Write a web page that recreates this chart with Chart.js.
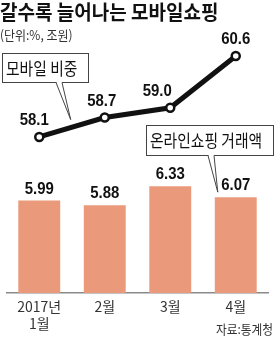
<!DOCTYPE html>
<html>
<head>
<meta charset="UTF-8">
<title>갈수록 늘어나는 모바일쇼핑</title>
<script src="https://cdn.jsdelivr.net/npm/chart.js"></script>
<style>
    html, body { margin: 0; padding: 0; background: #fff; }
    #wrap { position: relative; width: 275px; height: 341px; }
</style>
</head>
<body>
<div id="wrap"><canvas id="chart"></canvas></div>

<script>
    // 데이터
    var months = [['2017년', '1월'], '2월', '3월', '4월'];
    var mobileShare = [58.1, 58.7, 59.0, 60.6];   // 모바일 비중 (%)
    var onlineSales = [5.99, 5.88, 6.33, 6.07];   // 온라인쇼핑 거래액 (조원)

    var KR = '"Noto Sans CJK KR", "Noto Sans", sans-serif';
    var NUM = '"Liberation Sans", Arial, sans-serif';

    // 가로로 좁힌 글자 그리기
    function drawText(ctx, text, x, y, font, color, align, base, sx) {
        ctx.save();
        ctx.font = font;
        ctx.fillStyle = color;
        ctx.textAlign = align;
        ctx.textBaseline = base;
        ctx.translate(x, y);
        ctx.scale(sx, 1);
        ctx.fillText(text, 0, 0);
        ctx.restore();
    }

    // 말풍선 상자 + 꼬리
    function callout(ctx, box, baseL, baseR, tip) {
        var bottom = box.y + box.h;
        ctx.save();
        ctx.fillStyle = '#fff';
        ctx.strokeStyle = '#444';
        ctx.lineWidth = 1;
        ctx.fillRect(box.x, box.y, box.w, box.h);
        ctx.strokeRect(box.x + 0.5, box.y + 0.5, box.w, box.h);
        ctx.beginPath();
        ctx.moveTo(baseL, bottom + 0.5);
        ctx.lineTo(tip.x, tip.y);
        ctx.lineTo(baseR, bottom + 0.5);
        ctx.closePath();
        ctx.fill();
        ctx.fillRect(baseL + 1, bottom - 0.5, baseR - baseL - 1, 2);
        ctx.beginPath();
        ctx.moveTo(baseL, bottom + 0.5);
        ctx.lineTo(tip.x, tip.y);
        ctx.lineTo(baseR, bottom + 0.5);
        ctx.stroke();
        ctx.restore();
        drawText(ctx, box.text, box.x + 4, box.y + box.h / 2 + 1, '17px ' + KR, '#111', 'left', 'middle', 0.87);
    }

    var labelsPlugin = {
        id: 'labels',
        afterDraw: function (chart) {
            var ctx = chart.ctx;
            var bars = chart.getDatasetMeta(0).data;
            var pts = chart.getDatasetMeta(1).data;

            // 제목
            drawText(ctx, '갈수록 늘어나는 모바일쇼핑', 0, 12, 'bold 20px ' + KR, '#111', 'left', 'middle', 0.95);
            drawText(ctx, '(단위:%, 조원)', 0, 35, '13px ' + KR, '#333', 'left', 'middle', 0.92);

            // 막대 값
            for (var i = 0; i < bars.length; i++) {
                drawText(ctx, onlineSales[i].toFixed(2), bars[i].x, bars[i].y - 7, 'bold 17px ' + NUM, '#111', 'center', 'alphabetic', 0.88);
            }
            // 선 값
            var dx = [-5, -3, -13, 0];
            for (var j = 0; j < pts.length; j++) {
                drawText(ctx, mobileShare[j].toFixed(1), pts[j].x + dx[j], pts[j].y - 12, 'bold 17px ' + NUM, '#111', 'center', 'alphabetic', 0.88);
            }

            // 말풍선
            var t1x = pts[0].x + 0.48 * (pts[1].x - pts[0].x);
            var t1y = pts[0].y + 0.48 * (pts[1].y - pts[0].y) - 8;
            callout(ctx, { x: 2, y: 53, w: 86, h: 29, text: '모바일 비중' }, 56, 62, { x: t1x, y: t1y });
            var b4 = bars[3];
            callout(ctx, { x: 146, y: 125, w: 127, h: 30, text: '온라인쇼핑 거래액' }, 208, 214,
                { x: b4.x - b4.width / 2 + 3, y: b4.y - 5 });

            // 출처
            drawText(ctx, '자료:통계청', 273, 329, '13px ' + KR, '#333', 'right', 'middle', 0.9);
        }
    };

    var ctx = document.getElementById('chart').getContext('2d');
    var chart = new Chart(ctx, {
        type: 'bar',
        data: {
            labels: months,
            datasets: [{
                type: 'bar',
                data: onlineSales,
                yAxisID: 'y',
                backgroundColor: '#EA9A7B',
                barPercentage: 0.64,
                categoryPercentage: 1,
                order: 2
            }, {
                type: 'line',
                data: mobileShare,
                yAxisID: 'y2',
                borderColor: '#111',
                borderWidth: 5,
                tension: 0,
                pointRadius: 4,
                pointBorderWidth: 2.5,
                pointBackgroundColor: '#fff',
                pointBorderColor: '#111',
                clip: false,
                order: 1
            }]
        },
        options: {
            responsive: true,
            maintainAspectRatio: false,
            animation: false,
            layout: { padding: { top: 30, left: 0, right: 0, bottom: 0 } },
            plugins: {
                legend: { display: false },
                tooltip: { enabled: false }
            },
            scales: {
                x: {
                    grid: { display: false, drawTicks: false },
                    border: { display: true, color: '#8a8a8a', width: 1.5 },
                    ticks: {
                        color: '#333',
                        font: { family: KR, size: 14 },
                        padding: 5,
                        maxRotation: 0,
                        autoSkip: false
                    },
                    afterFit: function (scale) { scale.height = 48; }
                },
                y: { display: false, min: 3.8, max: 10.03 },
                y2: { display: false, min: 53.285, max: 61.4 }
            }
        },
        plugins: [labelsPlugin]
    });
</script>
</body>
</html>
